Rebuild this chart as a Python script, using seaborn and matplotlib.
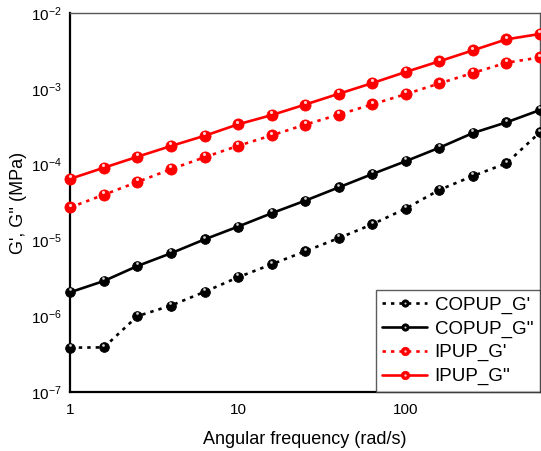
import numpy as np
import pandas as pd
import matplotlib
matplotlib.use("Agg")
import matplotlib.pyplot as plt
import matplotlib.transforms as mtransforms
from matplotlib.legend_handler import HandlerTuple
from matplotlib.ticker import FixedLocator, FuncFormatter, NullLocator
import seaborn as sns

# Angular frequency sweep (rad/s), 5 points per decade
freq = [1.0, 1.585, 2.512, 3.981, 6.310, 10.0, 15.85, 25.12, 39.81, 63.10,
        100.0, 158.5, 251.2, 398.1, 631.0]

# Moduli (MPa)
copup_g1 = [3.84e-7, 3.87e-7, 1.00e-6, 1.38e-6, 2.09e-6, 3.26e-6, 4.83e-6, 7.18e-6,
            1.07e-5, 1.63e-5, 2.63e-5, 4.63e-5, 7.08e-5, 1.04e-4, 2.67e-4]
copup_g2 = [2.07e-6, 2.91e-6, 4.59e-6, 6.76e-6, 1.03e-5, 1.52e-5, 2.28e-5, 3.34e-5,
            5.00e-5, 7.50e-5, 1.11e-4, 1.67e-4, 2.61e-4, 3.61e-4, 5.25e-4]
ipup_g1 = [2.73e-5, 4.00e-5, 5.90e-5, 8.70e-5, 1.25e-4, 1.77e-4, 2.43e-4, 3.37e-4,
           4.56e-4, 6.24e-4, 8.50e-4, 1.18e-3, 1.62e-3, 2.21e-3, 2.60e-3]
ipup_g2 = [6.50e-5, 9.10e-5, 1.27e-4, 1.76e-4, 2.40e-4, 3.40e-4, 4.50e-4, 6.20e-4,
           8.60e-4, 1.19e-3, 1.67e-3, 2.31e-3, 3.22e-3, 4.50e-3, 5.30e-3]

series_names = ["COPUP_G'", "COPUP_G''", "IPUP_G'", "IPUP_G''"]
series_values = [copup_g1, copup_g2, ipup_g1, ipup_g2]
x_ticks = [1, 10, 100]
x_tick_labels = ["1", "10", "100"]
y_ticks = [1e-7, 1e-6, 1e-5, 1e-4, 1e-3, 1e-2]

sns.set_theme(style="white")
plt.rcParams["font.family"] = ["Liberation Sans", "DejaVu Sans"]
plt.rcParams["mathtext.fontset"] = "custom"
plt.rcParams["mathtext.rm"] = "Liberation Sans"
plt.rcParams["mathtext.default"] = "regular"
for key in ["text.color", "axes.labelcolor", "xtick.color", "ytick.color"]:
    plt.rcParams[key] = "black"

styles = {
    "COPUP_G'": dict(color="black", ls=(0, (1.3, 1.9)), ms=7.0, hl="#cfcfcf"),
    "COPUP_G''": dict(color="black", ls="-", ms=7.0, hl="#cfcfcf"),
    "IPUP_G'": dict(color="#ff0000", ls=(0, (1.3, 1.9)), ms=8.0, hl="#ffd0d0"),
    "IPUP_G''": dict(color="#ff0000", ls="-", ms=8.0, hl="#ffd0d0"),
}

df = pd.concat(
    [pd.DataFrame({"freq": freq, "modulus": vals, "sample": name})
     for name, vals in zip(series_names, series_values)],
    ignore_index=True,
)

fig = plt.figure(figsize=(5.41, 4.51), dpi=100)
ax = fig.add_axes([0.130, 0.131, 0.868, 0.840])

handles = []
for name in series_names:
    st = styles[name]
    sub = df[df["sample"] == name]
    sns.lineplot(data=sub, x="freq", y="modulus", ax=ax, color=st["color"],
                 linewidth=1.9, marker="o", markersize=st["ms"],
                 markeredgewidth=0.6, markeredgecolor=st["color"],
                 markerfacecolor=st["color"], legend=False, zorder=3)
    main = ax.lines[-1]
    main.set_linestyle(st["ls"])
    main.set_clip_on(False)
    # specular highlight near the top of each ball marker
    shift = mtransforms.ScaledTranslation(-0.4 / 72, 2.0 / 72, fig.dpi_scale_trans)
    hl, = ax.plot(sub["freq"], sub["modulus"], ls="none", marker="o",
                  markersize=st["ms"] * 0.28, markerfacecolor=st["hl"],
                  markeredgewidth=0, zorder=4,
                  transform=ax.transData + shift)
    hl.set_clip_on(False)
    handles.append((main, hl))

ax.set_xscale("log")
ax.set_yscale("log")
ax.set_xlim(1, 631)
ax.set_ylim(1e-7, 1e-2)

ax.xaxis.set_major_locator(FixedLocator(x_ticks))
ax.xaxis.set_major_formatter(FuncFormatter(
    lambda v, p: x_tick_labels[x_ticks.index(round(v))] if round(v) in x_ticks else ""))
ax.xaxis.set_minor_locator(NullLocator())
ax.yaxis.set_major_locator(FixedLocator(y_ticks))
ax.yaxis.set_minor_locator(NullLocator())
ax.yaxis.set_major_formatter(FuncFormatter(lambda v, p: r"$10^{%d}$" % round(np.log10(v))))
ax.tick_params(axis="y", length=0, labelsize=11, pad=6)
ax.tick_params(axis="x", length=0, labelsize=11, pad=8)

for side in ["left", "bottom"]:
    ax.spines[side].set_color("black")
    ax.spines[side].set_linewidth(1.6)
for side in ["top", "right"]:
    ax.spines[side].set_color("#555555")
    ax.spines[side].set_linewidth(1.0)

ax.set_xlabel("Angular frequency (rad/s)", fontsize=13, labelpad=10)
ax.set_ylabel("G', G'' (MPa)", fontsize=13, labelpad=3)

leg = ax.legend(handles, series_names, loc="lower right", fontsize=13.5,
                handler_map={tuple: HandlerTuple(ndivide=1, pad=0)},
                frameon=True, fancybox=False, borderaxespad=0.0,
                handlelength=2.4, handletextpad=0.4, labelspacing=0.35,
                borderpad=0.35, markerscale=0.75)
leg.get_frame().set_edgecolor("#333333")
leg.get_frame().set_linewidth(1.0)

fig.savefig("out.png", dpi=100)
